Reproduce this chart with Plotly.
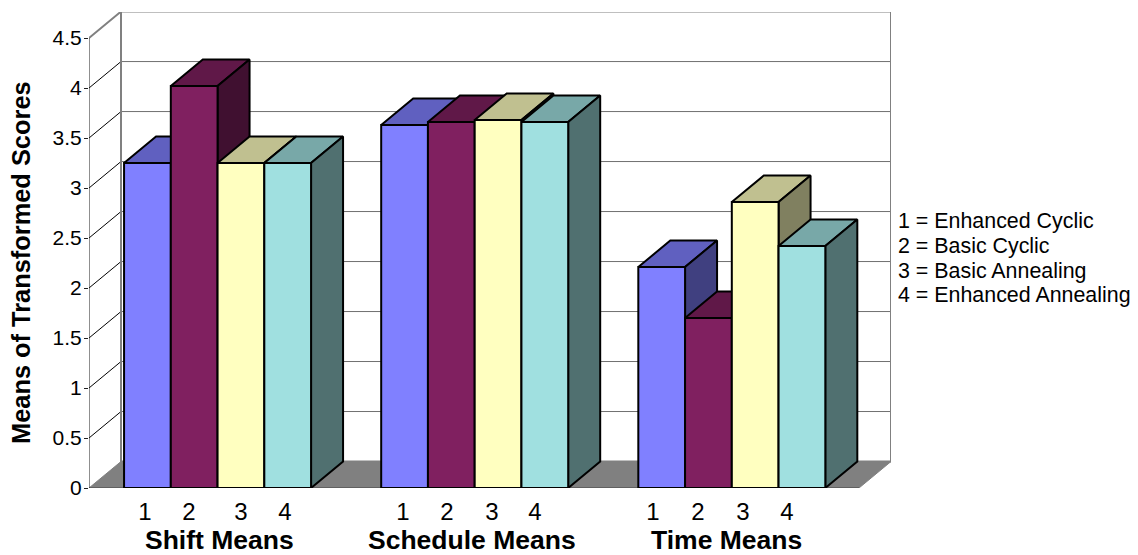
import plotly.graph_objects as go

# Data
GROUPS = ["Shift Means", "Schedule Means", "Time Means"]
BAR_LABELS = ["1", "2", "3", "4"]
SHIFT = [3.25, 4.02, 3.25, 3.25]
SCHEDULE = [3.63, 3.66, 3.68, 3.66]
TIME = [2.21, 1.70, 2.86, 2.42]
Y_TICKS = [0, 0.5, 1, 1.5, 2, 2.5, 3, 3.5, 4, 4.5]
Y_TICK_TEXT = ["0", "0.5", "1", "1.5", "2", "2.5", "3", "3.5", "4", "4.5"]
LEGEND_LINES = ["1 = Enhanced Cyclic", "2 = Basic Cyclic", "3 = Basic Annealing", "4 = Enhanced Annealing"]
SERIES = [SHIFT, SCHEDULE, TIME]

# Styles
FRONT = ["#8080FF", "#802060", "#FFFFC0", "#A0E0E0"]
TOP = ["#6060C0", "#601848", "#C0C090", "#78A8A8"]
SIDE = ["#404080", "#401030", "#808060", "#507070"]
FONT = "Liberation Sans, Arial, sans-serif"
GRAY = "#808080"

# Layout geometry (pixels of the 1138x555 frame)
W, H = 1138, 555
L, R, T, B = 89, 891, 12, 488.5
PX_PER_BAR = 46.75
PX_PER_UNIT = 100.1
DX = 32 / PX_PER_BAR
DY = 26.5 / PX_PER_UNIT
X_MAX = (R - L) / PX_PER_BAR
Y_MAX = (B - T) / PX_PER_UNIT
FLOOR_END = X_MAX - DX
GROUP_START = [0.75, 6.25, 11.75]
LABEL_PX = [145, 189, 241, 285, 403, 447, 492, 535, 653, 698, 743, 787]
GROUP_PX = [219, 472, 726]
LEGEND_PX = [221, 246, 271, 295]


def xu(px):
    return (px - L) / PX_PER_BAR


def py(px):
    return (B - px) / (B - T)


fig = go.Figure()


def line(xs, ys, color, width):
    fig.add_trace(go.Scatter(x=xs, y=ys, mode="lines", line=dict(color=color, width=width),
                             hoverinfo="skip", cliponaxis=False))


def poly(xs, ys, fill, lcolor="#000000", width=2.0):
    fig.add_trace(go.Scatter(x=xs + xs[:1], y=ys + ys[:1], mode="lines", fill="toself", fillcolor=fill,
                             line=dict(color=lcolor, width=width),
                             hoverinfo="skip", cliponaxis=False))


# Floor
poly([0, FLOOR_END, X_MAX, DX], [0, 0, DY, DY], GRAY, GRAY, 1)
line([0, FLOOR_END], [0, 0], "#404040", 1)

# Gridlines on the back wall and side wall
for v in Y_TICKS[1:-1]:
    line([DX, X_MAX], [v + DY, v + DY], "#707070", 1)
    line([0, DX], [v, v + DY], "#000000", 1)

# Walls
line([0, DX, DX, X_MAX, X_MAX], [4.5, 4.5 + DY, DY, DY, DY], GRAY, 2)
line([DX, X_MAX, X_MAX], [4.5 + DY, 4.5 + DY, DY], GRAY, 2)
line([0, 0], [0, 4.5], "#202020", 1)

# Bars
for start, values in zip(GROUP_START, SERIES):
    for i, v in enumerate(values):
        x0, x1 = start + i, start + i + 1
        poly([x0, x1, x1 + DX, x0 + DX], [v, v, v + DY, v + DY], TOP[i])
        poly([x1, x1 + DX, x1 + DX, x1], [0, DY, v + DY, v], SIDE[i])
        poly([x0, x1, x1, x0], [0, 0, v, v], FRONT[i])

annotations = []
for name, px in zip(GROUPS, GROUP_PX):
    annotations.append(dict(text=name, xref="x", x=xu(px), yref="paper", y=py(541), showarrow=False,
                            xanchor="center", yanchor="middle",
                            font=dict(family=FONT, size=26.5, color="#000000", weight="bold")))
for text, px in zip(LEGEND_LINES, LEGEND_PX):
    annotations.append(dict(text=text, xref="paper", x=(896 - L) / (R - L), yref="paper", y=py(px), showarrow=False,
                            xanchor="left", yanchor="middle",
                            font=dict(family=FONT, size=21.4, color="#000000")))
annotations.append(dict(text="Means of Transformed Scores", xref="paper", x=(21 - L) / (R - L), yref="y", y=2.25,
                        textangle=-90, showarrow=False, xanchor="center", yanchor="middle",
                        font=dict(family=FONT, size=25.4, color="#000000", weight="bold")))

fig.update_layout(
    width=W, height=H, autosize=False,
    margin=dict(l=L, r=W - R, t=T, b=H - B, pad=0),
    plot_bgcolor="#FFFFFF", paper_bgcolor="#FFFFFF", showlegend=False,
    annotations=annotations,
    xaxis=dict(range=[0, X_MAX], showgrid=False, zeroline=False, showline=False,
               tickmode="array", tickvals=[xu(p) for p in LABEL_PX], ticktext=BAR_LABELS * 3,
               ticks="outside", ticklen=2, tickcolor="rgba(0,0,0,0)", tickangle=0,
               tickfont=dict(family=FONT, size=24, color="#000000")),
    yaxis=dict(range=[0, Y_MAX], showgrid=False, zeroline=False, showline=False,
               tickmode="array", tickvals=Y_TICKS, ticktext=Y_TICK_TEXT,
               ticks="outside", ticklen=4, tickcolor="#202020", tickwidth=1, ticklabelstandoff=-2,
               tickfont=dict(family=FONT, size=21, color="#000000")),
)
fig.write_html("out.html", config={"displayModeBar": False},
               post_script="document.body.style.margin='0';document.documentElement.style.overflow='hidden';")
